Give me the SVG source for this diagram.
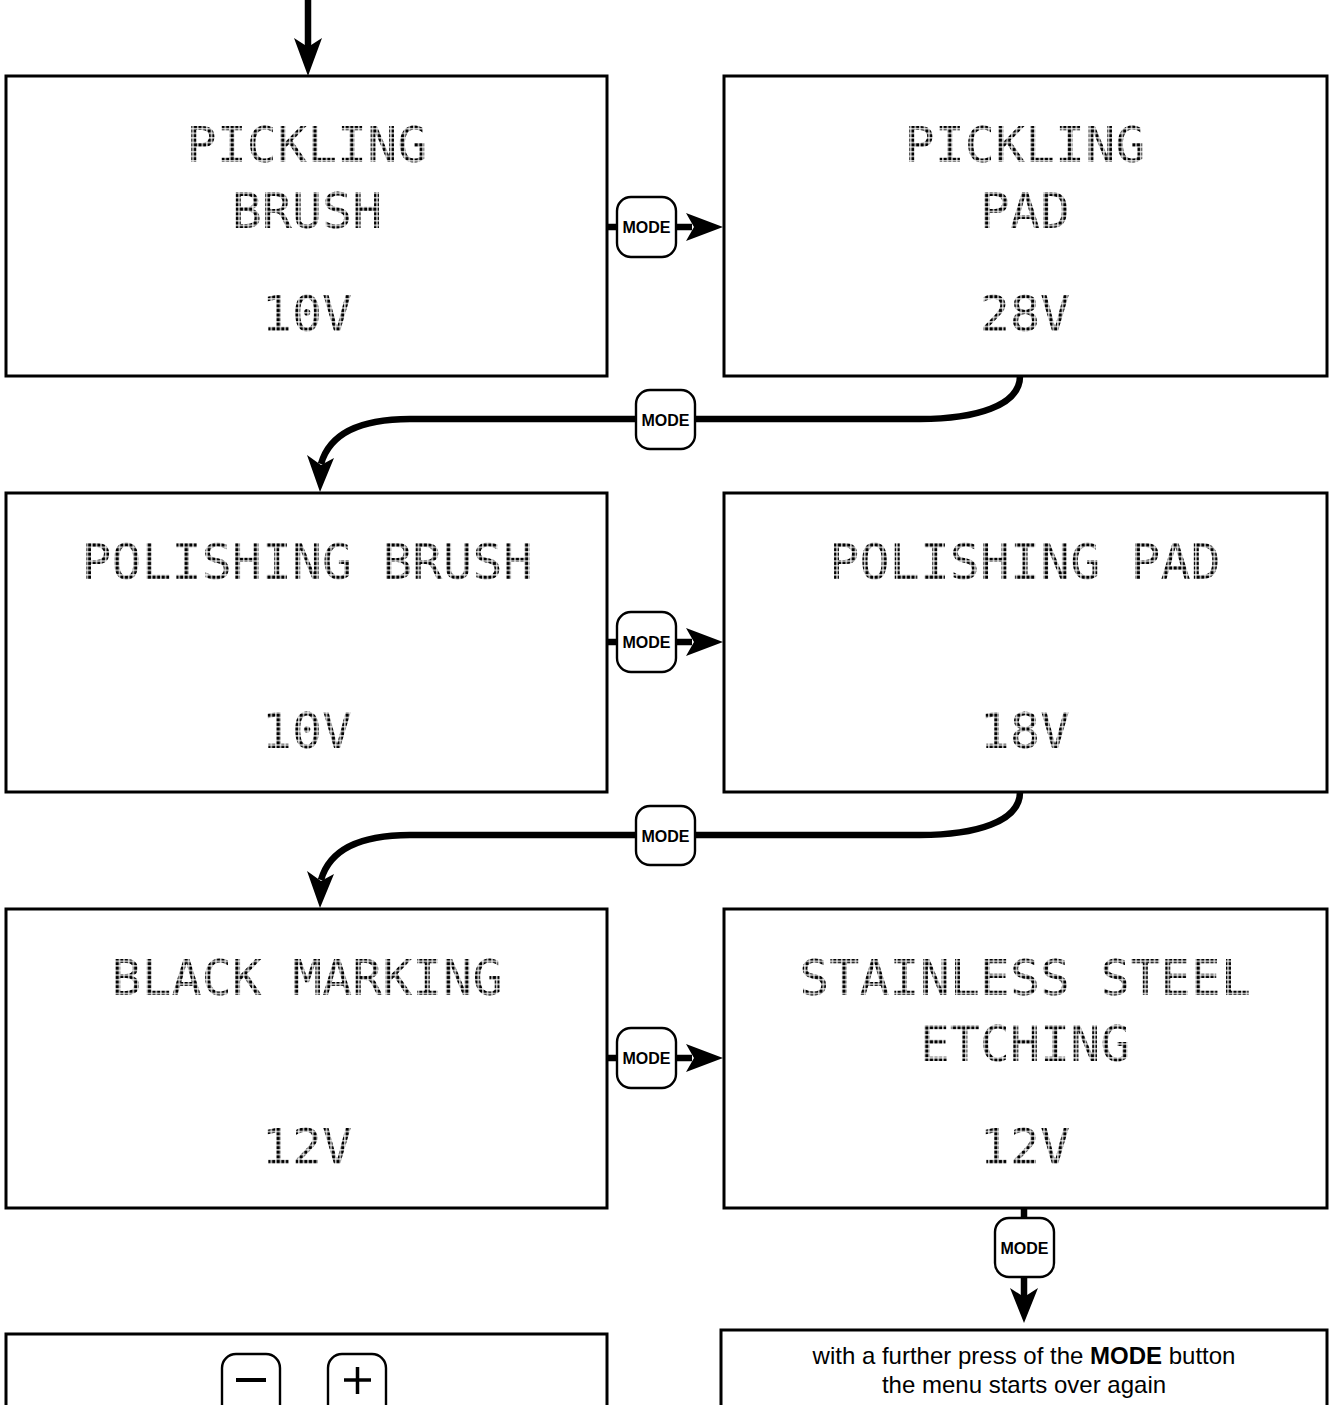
<svg xmlns="http://www.w3.org/2000/svg" width="1335" height="1405" viewBox="0 0 1335 1405">
<defs>
<pattern id="dots" patternUnits="userSpaceOnUse" x="0" y="0" width="4.6" height="4.6">
  <rect x="0.5" y="0.5" width="3.4" height="3.4" fill="#000"/>
</pattern>
</defs>
<style>
.box{fill:#fff;stroke:#000;stroke-width:3}
.lcd{font-family:"DejaVu Sans Mono","Liberation Mono",monospace;font-size:50px;fill:url(#dots);text-anchor:middle}
.btn{fill:#fff;stroke:#000;stroke-width:2.4}
.btxt{font-family:"Liberation Sans",Arial,sans-serif;font-size:16px;font-weight:bold;fill:#000;text-anchor:middle}
.con{fill:none;stroke:#000;stroke-width:6.5}
.head{fill:#000}
.note{font-family:"Liberation Sans",Arial,sans-serif;font-size:24px;fill:#000;text-anchor:middle}
</style>
<rect width="1335" height="1405" fill="#fff"/>

<g id="connectors">
  <line class="con" x1="308" y1="0" x2="308" y2="48"/>
  <polygon class="head" points="294,38 308,47 322,38 308,76"/>

  <line class="con" x1="607" y1="227" x2="692" y2="227"/>
  <polygon class="head" points="686,213 694,227 686,241 723,227"/>
  <line class="con" x1="607" y1="642" x2="692" y2="642"/>
  <polygon class="head" points="686,628 694,642 686,656 723,642"/>
  <line class="con" x1="607" y1="1058" x2="692" y2="1058"/>
  <polygon class="head" points="686,1044 694,1058 686,1072 723,1058"/>

  <path class="con" d="M1020,376 C1020,406 975,419 920,419 L410,419 C362,419 330,432 321,464"/>
  <polygon class="head" points="307,455 321,465 334,458 320,492"/>
  <path class="con" d="M1020,792 C1020,822 975,835 920,835 L410,835 C362,835 330,848 321,880"/>
  <polygon class="head" points="307,871 321,881 334,874 320,908"/>

  <line class="con" x1="1024" y1="1208" x2="1024" y2="1298"/>
  <polygon class="head" points="1010,1288 1024,1297 1038,1288 1024,1323"/>
</g>

<g id="box-pickling-brush">
  <rect class="box" x="6" y="76" width="601" height="300"/>
  <text class="lcd" x="307" y="162">PICKLING</text>
  <text class="lcd" x="307" y="228">BRUSH</text>
  <text class="lcd" x="307" y="331">10V</text>
</g>
<g id="box-pickling-pad">
  <rect class="box" x="724" y="76" width="603" height="300"/>
  <text class="lcd" x="1025" y="162">PICKLING</text>
  <text class="lcd" x="1025" y="228">PAD</text>
  <text class="lcd" x="1025" y="331">28V</text>
</g>
<g id="box-polishing-brush">
  <rect class="box" x="6" y="493" width="601" height="299"/>
  <text class="lcd" x="307" y="579">POLISHING BRUSH</text>
  <text class="lcd" x="307" y="748">10V</text>
</g>
<g id="box-polishing-pad">
  <rect class="box" x="724" y="493" width="603" height="299"/>
  <text class="lcd" x="1025" y="579">POLISHING PAD</text>
  <text class="lcd" x="1025" y="748">18V</text>
</g>
<g id="box-black-marking">
  <rect class="box" x="6" y="909" width="601" height="299"/>
  <text class="lcd" x="307" y="995">BLACK MARKING</text>
  <text class="lcd" x="307" y="1164">12V</text>
</g>
<g id="box-stainless-steel-etching">
  <rect class="box" x="724" y="909" width="603" height="299"/>
  <text class="lcd" x="1025" y="995">STAINLESS STEEL</text>
  <text class="lcd" x="1025" y="1061">ETCHING</text>
  <text class="lcd" x="1025" y="1164">12V</text>
</g>

<g id="mode-buttons">
  <g id="mode-1"><rect class="btn" x="617" y="197" width="59" height="60" rx="14"/><text class="btxt" x="646.5" y="233">MODE</text></g>
  <g id="mode-2"><rect class="btn" x="636" y="390" width="59" height="59" rx="14"/><text class="btxt" x="665.5" y="425.5">MODE</text></g>
  <g id="mode-3"><rect class="btn" x="617" y="612" width="59" height="60" rx="14"/><text class="btxt" x="646.5" y="648">MODE</text></g>
  <g id="mode-4"><rect class="btn" x="636" y="806" width="59" height="59" rx="14"/><text class="btxt" x="665.5" y="841.5">MODE</text></g>
  <g id="mode-5"><rect class="btn" x="617" y="1028" width="59" height="60" rx="14"/><text class="btxt" x="646.5" y="1064">MODE</text></g>
  <g id="mode-6"><rect class="btn" x="995" y="1218" width="59" height="59" rx="14"/><text class="btxt" x="1024.5" y="1253.5">MODE</text></g>
</g>

<g id="box-plus-minus">
  <rect class="box" x="6" y="1334" width="601" height="90"/>
  <rect class="btn" x="222" y="1354" width="58" height="70" rx="14"/>
  <line x1="236" y1="1380" x2="266" y2="1380" stroke="#000" stroke-width="4"/>
  <rect class="btn" x="328" y="1354" width="58" height="70" rx="14"/>
  <line x1="344" y1="1380" x2="371" y2="1380" stroke="#000" stroke-width="3.5"/>
  <line x1="357.5" y1="1367" x2="357.5" y2="1394" stroke="#000" stroke-width="3.5"/>
</g>

<g id="box-note">
  <rect class="box" x="721" y="1330" width="606" height="94"/>
  <text class="note" x="1024" y="1364">with a further press of the <tspan font-weight="bold">MODE</tspan> button</text>
  <text class="note" x="1024" y="1393">the menu starts over again</text>
</g>
</svg>
